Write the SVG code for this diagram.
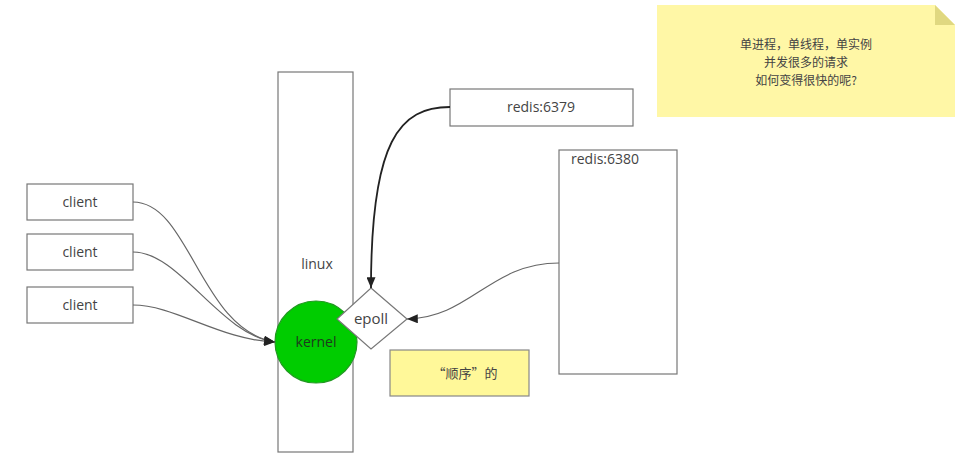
<svg xmlns="http://www.w3.org/2000/svg" width="963" height="463" viewBox="0 0 963 463">
<defs>
<marker id="ah" viewBox="0 0 12 10" refX="12" refY="5" markerWidth="12" markerHeight="9" orient="auto" markerUnits="userSpaceOnUse">
<path d="M0,0 L12,5 L0,10 z" fill="#222"/>
</marker>
</defs>
<style>
.box{fill:#fff;stroke:#777;stroke-width:1.2}
.t{font-family:"Open Sans","Noto Sans","Noto Sans CJK SC",sans-serif;fill:#444;font-size:14px}
.c{font-family:"Noto Sans CJK SC",sans-serif;fill:#444;font-size:12px}
.conn{fill:none;stroke:#666;stroke-width:1.2}
</style>
<rect width="963" height="463" fill="#fff"/>
<g id="note">
<path d="M657,5 H935 L955,25 V117 H657 Z" fill="#fff7a6"/>
<path d="M935,5 L955,25 H935 Z" fill="#e0d880"/>
<text class="c" text-anchor="middle" x="806" y="49">单进程，单线程，单实例</text>
<text class="c" text-anchor="middle" x="806" y="67">并发很多的请求</text>
<text class="c" text-anchor="middle" x="806" y="85">如何变得很快的呢?</text>
</g>
<g id="linux">
<rect class="box" x="278" y="72" width="75" height="380"/>
<text class="t" text-anchor="middle" x="317" y="269">linux</text>
</g>
<g id="client1">
<rect class="box" x="27" y="184" width="106" height="36"/>
<text class="t" text-anchor="middle" x="80" y="207">client</text>
</g>
<g id="client2">
<rect class="box" x="27" y="234" width="106" height="36"/>
<text class="t" text-anchor="middle" x="80" y="257">client</text>
</g>
<g id="client3">
<rect class="box" x="27" y="287" width="106" height="36"/>
<text class="t" text-anchor="middle" x="80" y="310">client</text>
</g>
<g id="redis6379">
<rect class="box" x="450" y="89" width="183" height="37"/>
<text class="t" text-anchor="middle" x="541" y="112">redis:6379</text>
</g>
<g id="redis6380">
<rect class="box" x="559" y="150" width="118" height="224"/>
<text class="t" x="571" y="164">redis:6380</text>
</g>
<g id="kernel">
<circle cx="316" cy="342" r="41" fill="#00cc00" stroke="#229922" stroke-width="1.2"/>
<text class="t" text-anchor="middle" x="316" y="347" style="fill:#1e3a1e">kernel</text>
</g>
<g id="epoll">
<path d="M371,288 L407,319 L371,349 L337,319 Z" class="box"/>
<text class="t" text-anchor="middle" x="371" y="324" style="font-size:15px">epoll</text>
</g>
<g id="order">
<rect x="390" y="350" width="139" height="46" fill="#fff899" stroke="#888" stroke-width="1.2"/>
<text class="c" text-anchor="middle" x="465" y="378" style="font-size:13px">“顺序”的</text>
</g>
<g id="connectors">
<path class="conn" d="M133,202 C190,202 200,330 275,342" marker-end="url(#ah)"/>
<path class="conn" d="M133,252 C180,252 220,335 275,342" marker-end="url(#ah)"/>
<path class="conn" d="M133,305 C175,305 220,340 275,342" marker-end="url(#ah)"/>
<path d="M450,107 C400,107 371,140 371,288" fill="none" stroke="#222" stroke-width="1.8" marker-end="url(#ah)"/>
<path class="conn" d="M559,263 C490,263 470,318 407,319" marker-end="url(#ah)"/>
</g>
</svg>
